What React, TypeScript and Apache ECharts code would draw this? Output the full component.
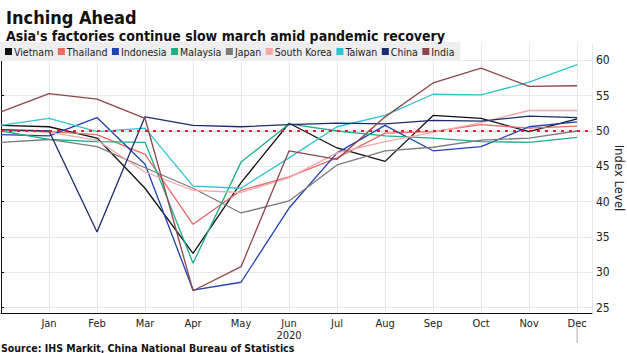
import React, { useEffect, useRef } from "react";
import * as echarts from "echarts";

const monthLabels = ["", "Jan", "Feb", "Mar", "Apr", "May", "Jun", "Jul", "Aug", "Sep", "Oct", "Nov", "Dec"];
const yearLabel = "2020";
const yTicks = [25, 30, 35, 40, 45, 50, 55, 60];
const yAxisTitle = "Index Level";
const threshold = 50;

const seriesNames = ["Vietnam", "Thailand", "Indonesia", "Malaysia", "Japan", "South Korea", "Taiwan", "China", "India"];
const seriesColors = ["#111111", "#e96a68", "#2140b4", "#1fae8a", "#7b7b7b", "#f3a9ab", "#2fc3d2", "#1c2b6c", "#8d464c"];

// Dec 2019, Jan..Dec 2020
const vietnam = [50.8, 50.6, 49.0, 41.9, 32.7, 42.7, 51.1, 47.6, 45.7, 52.2, 51.8, 49.9, 51.7];
const thailand = [50.1, 49.9, 49.5, 46.7, 36.8, 41.6, 43.5, 46.2, 49.7, 49.9, 50.9, 50.4, 50.7];
const indonesia = [49.5, 49.3, 51.9, 45.3, 27.5, 28.6, 39.1, 46.9, 50.8, 47.2, 47.8, 50.6, 51.3];
const malaysia = [50.0, 48.8, 48.5, 48.4, 31.3, 45.6, 51.0, 50.0, 49.3, 49.0, 48.5, 48.4, 49.1];
const japan = [48.4, 48.8, 47.8, 44.8, 41.9, 38.4, 40.1, 45.2, 47.2, 47.7, 48.7, 49.0, 50.0];
const southKorea = [50.1, 49.8, 48.7, 44.2, 41.6, 41.3, 43.4, 46.9, 48.5, 49.8, 51.2, 52.9, 52.9];
const taiwan = [50.8, 51.8, 49.9, 50.4, 42.2, 41.9, 46.2, 50.6, 52.2, 55.2, 55.1, 56.9, 59.4];
const china = [50.2, 50.0, 35.7, 52.0, 50.8, 50.6, 50.9, 51.1, 51.0, 51.5, 51.4, 52.1, 51.9];
const india = [52.7, 55.3, 54.5, 51.8, 27.4, 30.8, 47.2, 46.0, 52.0, 56.8, 58.9, 56.3, 56.4];

const allValues = [vietnam, thailand, indonesia, malaysia, japan, southKorea, taiwan, china, india];

const FONT = "'DejaVu Sans Condensed', 'DejaVu Sans', sans-serif";
const Y_MIN = 24.25;
const Y_MAX = 62.45;

export default function App() {
  const ref = useRef<HTMLDivElement>(null);
  useEffect(() => {
    if (!ref.current) return;
    const chart = echarts.init(ref.current, undefined, { renderer: "svg" });
    const series: any[] = seriesNames.map((name, i) => ({
      name,
      type: "line",
      data: allValues[i].map((v, k) => [k, v]),
      symbol: "none",
      lineStyle: { width: 1.3, color: seriesColors[i] },
      itemStyle: { color: seriesColors[i] },
      z: 3,
    }));
    series[0].markLine = {
      silent: true,
      symbol: "none",
      label: { show: false },
      lineStyle: { type: [3, 5], color: "#e0202a", width: 2 },
      data: [{ yAxis: threshold }],
      z: 5,
    };
    chart.setOption({
      animation: false,
      backgroundColor: "#ffffff",
      title: [
        {
          text: "Inching Ahead",
          left: 1,
          top: 3,
          textStyle: { fontFamily: FONT, fontSize: 18, fontWeight: "bold", color: "#111" },
        },
        {
          text: "Asia's factories continue slow march amid pandemic recovery",
          left: 1,
          top: 24,
          textStyle: { fontFamily: FONT, fontSize: 14, fontWeight: "bold", color: "#111" },
        },
        {
          text: "Source: IHS Markit, China National Bureau of Statistics",
          left: 1,
          top: 342,
          padding: 0,
          textStyle: { fontFamily: FONT, fontSize: 10.5, fontWeight: "bold", color: "#111" },
        },
      ],
      legend: {
        left: 0,
        top: 42,
        padding: [4, 6, 4, 5],
        backgroundColor: "#eeeeee",
        icon: "rect",
        itemWidth: 7,
        itemHeight: 7,
        itemGap: 4.5,
        textStyle: { fontFamily: FONT, fontSize: 10.5, color: "#222", padding: [0, 0, 0, -3] },
        data: seriesNames,
      },
      grid: { left: 1, right: 35, top: 43, bottom: 40, containLabel: false, outerBoundsMode: "none" },
      xAxis: {
        type: "value",
        min: 0,
        max: 12.31,
        interval: 1,
        axisLine: { show: true, lineStyle: { color: "#111", width: 1 } },
        axisTick: { show: false },
        splitLine: { show: true, lineStyle: { color: "#e8e8e8", width: 1 } },
        axisLabel: {
          showMaxLabel: false,
          showMinLabel: false,
          fontFamily: FONT,
          fontSize: 11,
          color: "#222",
          lineHeight: 12,
          margin: 4,
          formatter: (v: number) => {
            const k = Math.round(v);
            if (Math.abs(v - k) > 1e-6 || k < 1 || k > 12) return "";
            return k === 6 ? monthLabels[k] + "\n" + yearLabel : monthLabels[k];
          },
        },
      },
      yAxis: {
        type: "value",
        position: "right",
        min: Y_MIN,
        max: Y_MAX,
        axisLine: { show: true, lineStyle: { color: "#111", width: 1 } },
        axisTick: { show: true, length: 3, inside: false, customValues: yTicks, lineStyle: { color: "#111" } },
        axisLabel: { customValues: yTicks, fontFamily: FONT, fontSize: 12, color: "#222", margin: 4 },
        splitLine: { show: true, lineStyle: { color: "#e8e8e8", width: 1 } },
      },
      series,
    });
    const px = chart.convertToPixel({ xAxisIndex: 0 }, 12) as number;
    const axisX = chart.convertToPixel({ xAxisIndex: 0 }, 12.31) as number;
    const py = chart.convertToPixel({ yAxisIndex: 0 }, Y_MIN) as number;
    const pyTop = chart.convertToPixel({ yAxisIndex: 0 }, Y_MAX) as number;
    chart.setOption({
      graphic: [
        {
          type: "line",
          shape: { x1: px, y1: py + 14, x2: px, y2: py + 30 },
          style: { stroke: "#aaaaaa", lineWidth: 1 },
          silent: true,
        },
        {
          type: "text",
          x: axisX + 27,
          y: (py + pyTop) / 2,
          rotation: -Math.PI / 2,
          style: {
            text: yAxisTitle,
            fontFamily: FONT,
            fontSize: 13,
            fill: "#222",
            align: "center",
            verticalAlign: "middle",
          },
          silent: true,
        },
      ],
    });
    return () => chart.dispose();
  }, []);
  return (
    <div style={{ position: "fixed", left: 0, top: 0, width: 627, height: 353, background: "#fff" }}>
      <div ref={ref} style={{ width: 627, height: 353 }} />
    </div>
  );
}
